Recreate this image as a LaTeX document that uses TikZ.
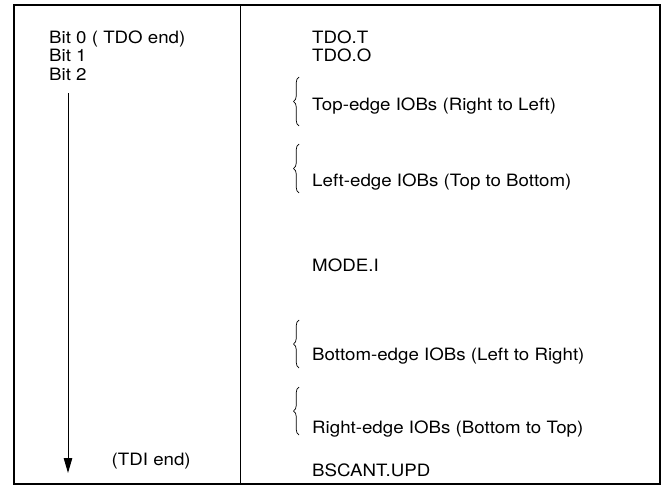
\documentclass[tikz,border=0pt]{standalone}
\usepackage{fontspec}
\setmainfont{TeX Gyre Heros}
\usetikzlibrary{arrows.meta,decorations.pathreplacing}
\begin{document}
\begin{tikzpicture}[x=1pt,y=-1pt,
  lbl/.style={anchor=base west,inner sep=0pt,xscale=1.1,font=\fontsize{17}{20}\selectfont},
  brc/.style={decorate,decoration={brace,amplitude=5.5pt},line width=0.7pt}]
\useasboundingbox (0,0) rectangle (663,487);
\draw[line width=2pt] (13.5,5) rectangle (659.5,484);
\coordinate (dtop) at (240,5);
\coordinate (dbot) at (240,484);
\draw[line width=1pt] (dtop) -- (dbot);
% left column
\node[lbl] (b0) at (49,44) {Bit 0 ( TDO end)};
\node[lbl] (b1) at (49,62) {Bit 1};
\node[lbl] (b2) at (49,80) {Bit 2};
\coordinate (astart) at (68,93);
\coordinate (aend) at (68,473);
\draw[line width=1pt,-{Triangle[length=15pt,width=8.5pt]}] (astart) -- (aend);
\node[lbl] (tdi) at (111.5,465) {(TDI end)};
% right column
\node[lbl] (tdot) at (312,43.5) {TDO.T};
\node[lbl] (tdoo) at (312,62) {TDO.O};
\node[lbl] (top) at (312,110) {Top-edge IOBs (Right to Left)};
\node[lbl] (left) at (312,186) {Left-edge IOBs (Top to Bottom)};
\node[lbl] (mode) at (312,271.5) {MODE.I};
\node[lbl] (bot) at (312,360) {Bottom-edge IOBs (Left to Right)};
\node[lbl] (right) at (312,433) {Right-edge IOBs (Bottom to Top)};
\node[lbl] (bscan) at (312,476) {BSCANT.UPD};
% braces
\coordinate (t1) at (299,77);  \coordinate (t2) at (299,126);
\coordinate (l1) at (299,144); \coordinate (l2) at (299,193);
\coordinate (m1) at (299,320); \coordinate (m2) at (299,368);
\coordinate (r1) at (299,387); \coordinate (r2) at (299,435);
\draw[brc] (t2) -- (t1);
\draw[brc] (l2) -- (l1);
\draw[brc] (m2) -- (m1);
\draw[brc] (r2) -- (r1);
\end{tikzpicture}
\end{document}
